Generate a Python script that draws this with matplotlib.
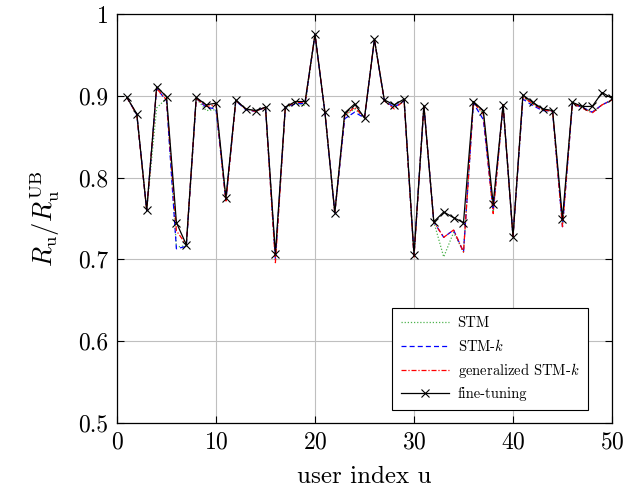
import matplotlib
matplotlib.use("Agg")
import matplotlib.pyplot as plt
import numpy as np

plt.rcParams['font.family'] = ['cmr10', 'DejaVu Serif']
plt.rcParams['mathtext.fontset'] = 'cm'
plt.rcParams['axes.unicode_minus'] = False
plt.rcParams['axes.formatter.use_mathtext'] = True

users = list(range(1, 51))

fine_tuning = [0.898, 0.878, 0.760, 0.911, 0.899, 0.745, 0.718, 0.898, 0.889, 0.891,
               0.775, 0.895, 0.884, 0.882, 0.886, 0.707, 0.886, 0.893, 0.893, 0.975,
               0.880, 0.757, 0.879, 0.890, 0.873, 0.969, 0.895, 0.889, 0.896, 0.706,
               0.888, 0.746, 0.758, 0.751, 0.745, 0.893, 0.882, 0.768, 0.889, 0.728,
               0.901, 0.892, 0.884, 0.882, 0.750, 0.892, 0.887, 0.887, 0.904, 0.897]

gen_stm_k = [0.898, 0.877, 0.760, 0.909, 0.895, 0.735, 0.718, 0.897, 0.887, 0.889,
             0.770, 0.894, 0.884, 0.881, 0.886, 0.696, 0.886, 0.892, 0.892, 0.975,
             0.880, 0.757, 0.876, 0.886, 0.873, 0.969, 0.894, 0.884, 0.894, 0.703,
             0.888, 0.746, 0.727, 0.736, 0.709, 0.892, 0.878, 0.756, 0.889, 0.728,
             0.899, 0.890, 0.883, 0.881, 0.740, 0.891, 0.885, 0.879, 0.889, 0.895]

stm_k = [0.898, 0.877, 0.760, 0.909, 0.894, 0.713, 0.716, 0.897, 0.886, 0.884,
         0.772, 0.894, 0.883, 0.881, 0.886, 0.700, 0.886, 0.890, 0.891, 0.975,
         0.880, 0.757, 0.872, 0.880, 0.873, 0.969, 0.894, 0.886, 0.894, 0.705,
         0.888, 0.746, 0.727, 0.736, 0.709, 0.891, 0.871, 0.760, 0.889, 0.728,
         0.896, 0.888, 0.882, 0.881, 0.740, 0.890, 0.886, 0.880, 0.889, 0.895]

stm = [0.898, 0.877, 0.760, 0.885, 0.897, 0.715, 0.717, 0.897, 0.882, 0.883,
       0.773, 0.894, 0.884, 0.881, 0.886, 0.702, 0.885, 0.891, 0.888, 0.975,
       0.880, 0.757, 0.876, 0.884, 0.873, 0.969, 0.894, 0.886, 0.894, 0.705,
       0.888, 0.746, 0.703, 0.733, 0.709, 0.892, 0.878, 0.758, 0.889, 0.728,
       0.898, 0.890, 0.883, 0.881, 0.742, 0.891, 0.886, 0.880, 0.889, 0.895]

fig = plt.figure(figsize=(6.44, 4.90), dpi=100)
ax = fig.add_axes([0.1817, 0.1367, 0.7686, 0.8347])

ax.plot(users, stm, color=(0.3, 0.7, 0.3), linestyle=(0, (1, 1.5)), linewidth=0.9, label='STM')
ax.plot(users, stm_k, color='blue', linestyle=(0, (4, 2.5)), linewidth=0.9, label=r'STM-$k$')
ax.plot(users, gen_stm_k, color='red', linestyle=(0, (4, 1.5, 1, 1.5)), linewidth=0.9,
        label=r'generalized STM-$k$')
ax.plot(users, fine_tuning, color='black', linestyle='-', linewidth=0.9, marker='x',
        markersize=6, markeredgewidth=0.8, label='fine-tuning')

ax.set_xlim(0, 50)
ax.set_ylim(0.5, 1.0)
ax.set_xticks([0, 10, 20, 30, 40, 50])
ax.set_yticks([0.5, 0.6, 0.7, 0.8, 0.9, 1.0])
ax.set_yticklabels(['0.5', '0.6', '0.7', '0.8', '0.9', '1'])
ax.grid(True, color='#bfbfbf', linewidth=0.8)
ax.set_axisbelow(True)
ax.tick_params(direction='in', top=True, right=True, labelsize=17, length=5, width=0.8, pad=6)
for s in ax.spines.values():
    s.set_linewidth(0.9)

ax.set_xlabel('user index u', fontsize=18, labelpad=9)
ax.set_ylabel(r'$R_\mathrm{u}/R_\mathrm{u}^\mathrm{UB}$', fontsize=19, labelpad=12)

leg = ax.legend(loc='lower right', bbox_to_anchor=(0.966, 0.014), fontsize=10.5,
                frameon=True, fancybox=False, edgecolor='black', framealpha=1,
                handlelength=3.3, borderpad=0.6, labelspacing=0.5, handletextpad=0.6)
leg.get_frame().set_linewidth(0.8)

fig.savefig('out.png', dpi=100)
